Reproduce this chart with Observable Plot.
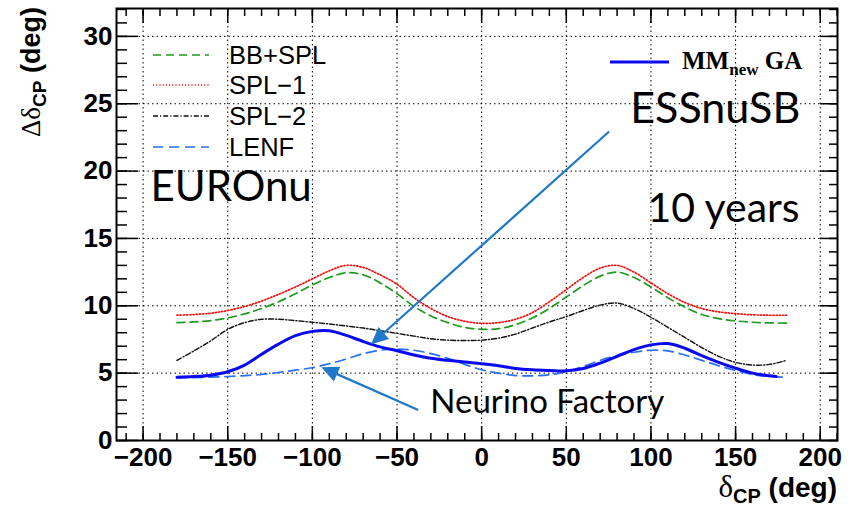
<!DOCTYPE html>
<html><head><meta charset="utf-8">
<script src="https://cdn.jsdelivr.net/npm/d3@7"></script>
<script src="https://cdn.jsdelivr.net/npm/@observablehq/plot@0.6"></script>
<style>html,body{margin:0;padding:0;background:#fff}svg{display:block}</style>
</head><body><div id="chart"></div>
<script>
// ---- data ----
const deltaCP = [-180,-170,-160,-150,-140,-130,-120,-110,-100,-90,-80,-70,-60,-50,-40,-30,-20,-10,0,10,20,30,40,50,60,70,80,90,100,110,120,130,140,150,160,170,180];
const bbSpl = [8.75,8.8,8.9,9.1,9.4,9.8,10.3,10.9,11.55,12.1,12.45,12.3,11.7,10.9,9.95,9.25,8.75,8.4,8.25,8.3,8.6,9.1,9.8,10.65,11.5,12.2,12.5,12.1,11.4,10.6,9.9,9.35,9.05,8.88,8.78,8.73,8.72];
const spl1 = [9.3,9.35,9.45,9.65,9.95,10.35,10.85,11.4,12.0,12.6,13.0,12.85,12.3,11.6,10.6,9.8,9.2,8.85,8.7,8.75,9.0,9.5,10.3,11.2,12.1,12.8,13.0,12.5,11.7,10.9,10.25,9.8,9.55,9.42,9.33,9.3,9.3];
const spl2 = [5.95,6.65,7.4,8.25,8.75,9.0,9.0,8.9,8.78,8.65,8.5,8.35,8.15,7.95,7.75,7.55,7.45,7.42,7.45,7.6,7.9,8.35,8.8,9.2,9.65,10.05,10.2,9.8,9.15,8.4,7.65,6.9,6.25,5.8,5.6,5.65,5.95];
const lenf = [4.65,4.67,4.7,4.75,4.82,4.9,5.05,5.22,5.4,5.7,6.05,6.45,6.7,6.78,6.7,6.45,6.1,5.65,5.25,5.0,4.82,4.8,4.88,5.1,5.5,5.95,6.3,6.55,6.7,6.65,6.35,5.95,5.55,5.2,4.9,4.75,4.7];
const mmDeltaCP = [-180,-170,-160,-150,-140,-130,-120,-110,-100,-90,-80,-70,-60,-50,-40,-30,-20,-10,0,10,20,30,40,50,60,70,80,90,100,110,120,130,140,150,160,170,174];
const mmGA = [4.7,4.75,4.85,5.1,5.6,6.4,7.15,7.78,8.1,8.15,7.8,7.35,6.95,6.66,6.35,6.1,5.95,5.82,5.7,5.55,5.35,5.25,5.2,5.17,5.35,5.75,6.25,6.75,7.1,7.2,6.85,6.3,5.8,5.37,5.0,4.8,4.75];

const legendNames = ["BB+SPL","SPL\u22121","SPL\u22122","LENF"];
const xTickValues = [-200,-150,-100,-50,0,50,100,150,200];
const yTickValues = [0,5,10,15,20,25,30];

const annLabels = ["EUROnu","ESSnuSB","10 years","Neurino Factory"];
const annX = [-195.6, 87.8, 97.9, -30.3];
const annY = [18.75, 24.57, 17.22, 2.84];
const annSize = [42, 43, 41, 33];
const arrowFromX = [75.6, -37.2];
const arrowFromY = [22.9, 2.23];
const arrowToX = [-65.0, -94.3];
const arrowToY = [7.1, 5.4];

// ---- styles ----
const colBB = "#1e9a1e", colS1 = "#ee1111", colS2 = "#111111", colLENF = "#2a6ef2", colMM = "#0a0af0", colArrow = "#1f78c8";
const series = [
  {name: legendNames[0], x: deltaCP, y: bbSpl, stroke: colBB, dash: "8,5", w: 1.7},
  {name: legendNames[1], x: deltaCP, y: spl1, stroke: colS1, dash: "1.2,2", w: 1.7},
  {name: legendNames[2], x: deltaCP, y: spl2, stroke: colS2, dash: "5,2,1.2,2", w: 1.4},
  {name: legendNames[3], x: deltaCP, y: lenf, stroke: colLENF, dash: "10,6", w: 1.7}
];
const fmt = d => d < 0 ? "\u2212" + (-d) : String(d);
const minorX = d3.range(-210, 211, 10);
const minorY = d3.range(0, 33, 1);

const lineMarks = series.map(s => Plot.line(s.x.map((v, i) => ({x: v, y: s.y[i]})), {
  x: "x", y: "y", stroke: s.stroke, strokeWidth: s.w, strokeDasharray: s.dash, curve: "catmull-rom"
}));
const mmData = mmDeltaCP.map((v, i) => ({x: v, y: mmGA[i]}));
const annData = annLabels.map((t, i) => ({t, x: annX[i], y: annY[i], s: annSize[i]}));

const chart = Plot.plot({
  width: 853, height: 508,
  marginLeft: 116, marginRight: 16, marginTop: 8, marginBottom: 68,
  x: {domain: [-215.7, 210.2]},
  y: {domain: [0, 32.07]},
  style: {fontFamily: "'Liberation Sans', Arial, sans-serif", background: "white", color: "black"},
  marks: [
    Plot.gridX(xTickValues, {stroke: "black", strokeOpacity: 1, strokeWidth: 1, strokeDasharray: "1.5,3"}),
    Plot.gridY(yTickValues.slice(1), {stroke: "black", strokeOpacity: 1, strokeWidth: 1, strokeDasharray: "1.5,3"}),
    ...lineMarks,
    Plot.line(mmData, {x: "x", y: "y", stroke: colMM, strokeWidth: 3, curve: "catmull-rom"}),
    Plot.frame({stroke: "black", strokeWidth: 2}),
    // inward ticks
    Plot.axisX({anchor: "bottom", ticks: xTickValues, tickSize: -14, fill: "none", label: null, strokeWidth: 1.5}),
    Plot.axisX({anchor: "bottom", ticks: minorX, tickSize: -7, fill: "none", label: null, strokeWidth: 1.5}),
    Plot.axisX({anchor: "top", ticks: xTickValues, tickSize: -14, fill: "none", label: null, strokeWidth: 1.5}),
    Plot.axisX({anchor: "top", ticks: minorX, tickSize: -7, fill: "none", label: null, strokeWidth: 1.5}),
    Plot.axisY({anchor: "left", ticks: yTickValues, tickSize: -22, fill: "none", label: null, strokeWidth: 1.5}),
    Plot.axisY({anchor: "left", ticks: minorY, tickSize: -11, fill: "none", label: null, strokeWidth: 1.5}),
    Plot.axisY({anchor: "right", ticks: yTickValues, tickSize: -18, fill: "none", label: null, strokeWidth: 1.5}),
    Plot.axisY({anchor: "right", ticks: minorY, tickSize: -9, fill: "none", label: null, strokeWidth: 1.5}),
    // tick labels
    Plot.axisX({anchor: "bottom", ticks: xTickValues, tickSize: 0, tickPadding: 7, tickFormat: fmt, fontSize: 26, fontWeight: "bold", label: null}),
    Plot.axisY({anchor: "left", ticks: yTickValues, tickSize: 0, tickPadding: 4, tickFormat: fmt, fontSize: 26, fontWeight: "bold", label: null}),
    // annotations
    Plot.text(annData, {x: "x", y: "y", text: "t", fontSize: d => d.s, textAnchor: "start", lineAnchor: "middle", fontFamily: "Lato, 'Open Sans', sans-serif", fill: "black"})
  ]
});
document.getElementById("chart").appendChild(chart);

// ---- overlays drawn with the plot's own scales ----
const sx = chart.scale("x"), sy = chart.scale("y");
const svg = d3.select(chart);
const g = svg.append("g").attr("text-anchor", "start");

// arrows
arrowFromX.forEach((_, i) => {
  const x1 = sx.apply(arrowFromX[i]), y1 = sy.apply(arrowFromY[i]);
  const x2 = sx.apply(arrowToX[i]), y2 = sy.apply(arrowToY[i]);
  const a = Math.atan2(y2 - y1, x2 - x1), L = 17, Wd = 8;
  const bx = x2 - L * Math.cos(a), by = y2 - L * Math.sin(a);
  g.append("line").attr("x1", x1).attr("y1", y1).attr("x2", bx).attr("y2", by)
    .attr("stroke", colArrow).attr("stroke-width", 2.2);
  g.append("path").attr("fill", colArrow)
    .attr("d", `M${x2},${y2}L${bx + Wd * Math.sin(a)},${by - Wd * Math.cos(a)}L${bx - Wd * Math.sin(a)},${by + Wd * Math.cos(a)}Z`);
});

// left legend
const legY = [55, 85, 116, 147];
series.forEach((s, i) => {
  g.append("line").attr("x1", 153).attr("x2", 209).attr("y1", legY[i]).attr("y2", legY[i])
    .attr("stroke", s.stroke).attr("stroke-width", s.w).attr("stroke-dasharray", s.dash);
  g.append("text").attr("x", 229).attr("y", legY[i]).attr("dy", "0.36em").attr("text-anchor", "start")
    .attr("font-family", "'Liberation Sans', Arial, sans-serif").attr("font-size", 25.5)
    .text(s.name);
});
// right legend
g.append("line").attr("x1", 610).attr("x2", 669).attr("y1", 62).attr("y2", 62).attr("stroke", colMM).attr("stroke-width", 3);
const t = g.append("text").attr("x", 682).attr("y", 69).attr("text-anchor", "start")
  .attr("font-family", "'Liberation Serif', 'Times New Roman', serif").attr("font-weight", "bold").attr("font-size", 25);
t.append("tspan").text("MM");
t.append("tspan").attr("font-size", 17).attr("dy", 6).text("new");
t.append("tspan").attr("dy", -6).text(" GA");

// axis titles
const xl = g.append("text").attr("x", 837).attr("y", 497).attr("text-anchor", "end")
  .attr("font-family", "'Liberation Sans', Arial, sans-serif").attr("font-size", 28).attr("font-weight", "bold");
xl.append("tspan").attr("font-weight", "normal").attr("font-family", "'Liberation Serif', serif").attr("font-size", 31).text("\u03b4");
xl.append("tspan").attr("font-size", 20).attr("dy", 6).text("CP");
xl.append("tspan").attr("dy", -6).text(" (deg)");

const yl = g.append("text").attr("transform", "translate(40,7) rotate(-90)").attr("text-anchor", "end")
  .attr("font-family", "'Liberation Sans', Arial, sans-serif").attr("font-size", 27).attr("font-weight", "bold");
yl.append("tspan").attr("font-weight", "normal").attr("font-family", "'Liberation Serif', serif").text("\u0394\u03b4");
yl.append("tspan").attr("font-size", 19).attr("dy", 6).text("CP");
yl.append("tspan").attr("dy", -6).text(" (deg)");
</script>
</body></html>
